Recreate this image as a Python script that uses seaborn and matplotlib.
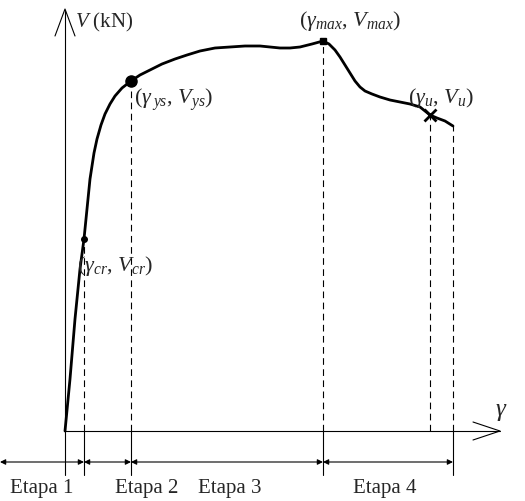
import numpy as np
import matplotlib.pyplot as plt
import seaborn as sns
import pandas as pd

# curve (gamma, V) in arbitrary units
gamma = [0, 5, 10, 15, 19, 25, 29, 32, 36, 40, 45, 50, 57, 66, 75, 85, 97, 110, 122, 135,
         150, 165, 180, 195, 205, 215, 225, 235, 247, 258, 264, 270, 275, 280, 285, 290,
         295, 300, 307, 315, 325, 335, 345, 355, 360, 365, 372, 380, 388]
V = [0, 52, 112, 162, 192, 252, 278, 292, 306, 317, 327, 335, 343, 350, 356, 361, 367,
     372, 376, 380, 383, 384, 385, 385, 384, 383, 383, 384, 387, 390, 387, 381, 374,
     366, 358, 350, 344, 340, 337, 334, 331, 329, 327, 324, 320, 316, 313, 310, 305]
pt_gamma = [19, 66, 258, 365]
pt_V = [192, 350, 390, 316]
pt_labels = [r'($\gamma_{cr}$, $V_{cr}$)', r'($\gamma\,_{ys}$, $V_{ys}$)',
             r'($\gamma_{max}$, $V_{max}$)', r'($\gamma_u$, $V_u$)']
stage_edges = [-65, 19, 66, 258, 388]
stage_labels = ['Etapa 1', 'Etapa 2', 'Etapa 3', 'Etapa 4']

sns.set_style('white')
plt.rcParams['font.family'] = ['Liberation Serif', 'DejaVu Serif']
plt.rcParams['mathtext.fontset'] = 'custom'
plt.rcParams['mathtext.it'] = 'Liberation Serif:italic'
plt.rcParams['mathtext.rm'] = 'Liberation Serif'

fig = plt.figure(figsize=(5.25, 5.02), dpi=100)
ax = fig.add_axes([0, 0, 1, 1])
ax.set_xlim(-65, 460)
ax.set_ylim(-70, 432)
ax.axis('off')

df = pd.DataFrame({'g': gamma, 'V': V})
sns.lineplot(data=df, x='g', y='V', sort=False, color='black', lw=2, ax=ax)

# axes arrows
ax.plot([0, 0], [0, 420], color='black', lw=0.8)
ax.plot([-10, 0, 10], [395, 422, 395], color='black', lw=0.8)
ax.plot([0, 435], [0, 0], color='black', lw=0.8)
ax.plot([408, 435, 408], [9, 0, -9], color='black', lw=0.8)
ax.text(10, 410, r'$V$ (kN)', fontsize=15, va='center')
ax.text(430, 20, r'$\gamma$', fontsize=18, va='center')

# points
ax.plot(pt_gamma[0], pt_V[0], 'o', color='black', ms=4)
ax.plot(pt_gamma[1], pt_V[1], 'o', color='black', ms=8)
ax.plot(pt_gamma[2], pt_V[2], 's', color='black', ms=5)
ax.plot(pt_gamma[3], pt_V[3], 'x', color='black', ms=9, mew=2)
offs = [(-7, -26), (3, -18), (-24, 21), (-22, 18)]
for g, v, lab, (dx, dy) in zip(pt_gamma, pt_V, pt_labels, offs):
    ax.text(g + dx, v + dy, lab, fontsize=16, va='center')

# dashed verticals
for g, v in zip(pt_gamma + [388], pt_V + [305]):
    ax.plot([g, g], [0, v], color='black', lw=0.8, ls=(0, (6, 4)))

# stage dimension lines
for e in stage_edges[1:]:
    ax.plot([e, e], [0, -44], color='black', lw=0.8)
ax.plot([0, 0], [0, -44], color='black', lw=0.8)
for a, b in zip(stage_edges[:-1], stage_edges[1:]):
    ax.annotate('', xy=(a, -31), xytext=(b, -31),
                arrowprops=dict(arrowstyle='<|-|>', color='black', lw=0.8,
                                mutation_scale=8, shrinkA=0, shrinkB=0))
lab_x = [-23, 82, 165, 320]
for x, lab in zip(lab_x, stage_labels):
    ax.text(x, -57, lab, fontsize=15, ha='center', va='center')

fig.savefig('out.png', dpi=100)
